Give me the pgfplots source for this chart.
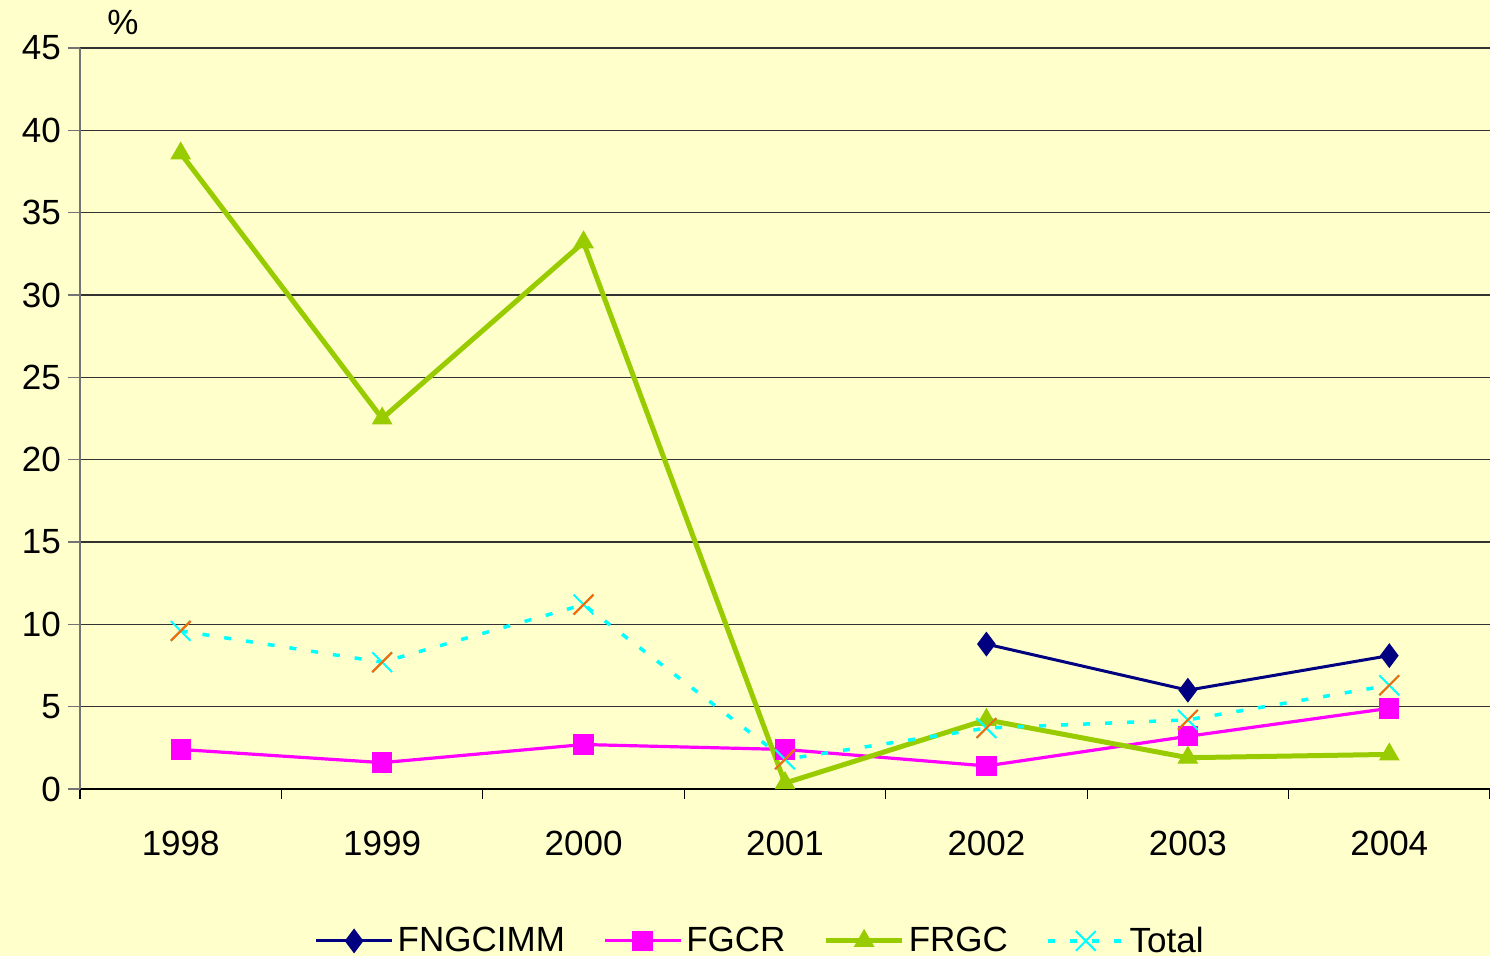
\documentclass[border=0pt]{standalone}
\usepackage{pgfplots}
\pgfplotsset{compat=1.18}
\usepackage{fontspec}
\setmainfont{Liberation Sans}
\definecolor{bg}{RGB}{255,255,204}
\definecolor{navyc}{RGB}{0,0,128}
\definecolor{magc}{RGB}{255,0,255}
\definecolor{grnc}{RGB}{153,204,0}
\definecolor{cyc}{RGB}{0,255,255}
\definecolor{orc}{RGB}{255,102,0}
\begin{document}
\begin{tikzpicture}
\fill[bg] (-40pt,-83.5pt) rectangle (705pt,394.5pt);
\path[use as bounding box] (-40pt,-83.5pt) rectangle (705pt,394.5pt);
\begin{axis}[
  at={(0,0)}, anchor=south west,
  scale only axis, width=705pt, height=370.5pt,
  xmin=-0.5, xmax=6.5, ymin=0, ymax=45,
  axis lines=left, axis line style={-, draw=black!55, line width=0.8pt},
  x axis line style={draw=black},
  xtick={0,...,6},
  xticklabels={1998,1999,2000,2001,2002,2003,2004},
  major x tick style={draw=none},
  minor xtick={-0.5,0.5,...,6.5},
  minor x tick style={draw=black, line width=0.6pt},
  minor tick length=5pt,
  ytick={0,5,...,45},
  major tick length=6pt,
  tick align=outside,
  ytick style={draw=black!55, line width=0.8pt},
  ymajorgrids, grid style={black!80, line width=0.7pt},
  tick label style={font=\fontsize{17.5}{20}\selectfont},
  /pgf/number format/assume math mode=true,
  xticklabel style={yshift=-11.5pt},
  yticklabel style={xshift=0pt},
  clip=false,
  legend columns=4,
  legend style={draw=none, fill=none, at={(0.483,-0.205)}, anchor=center,
    font=\fontsize{17.5}{20}\selectfont,
    /tikz/every even column/.append style={column sep=17pt}},
  legend image code/.code={\draw[mark repeat=2,mark phase=2] plot coordinates {(0cm,0cm) (0.67cm,0cm) (1.34cm,0cm)};},
]
\addplot[navyc, line width=1.5pt, mark=diamond*, mark size=5pt, mark options={solid}]
  coordinates {(4,8.8) (5,6.0) (6,8.1)};
\addlegendentry{FNGCIMM}
\addplot[magc, line width=1.6pt, mark=square*, mark size=4.3pt, mark options={solid}]
  coordinates {(0,2.4) (1,1.6) (2,2.7) (3,2.4) (4,1.4) (5,3.2) (6,4.9)};
\addlegendentry{FGCR}
\addplot[grnc, line width=2.5pt, mark=triangle*, mark size=5.5pt, mark options={solid, line width=0.5pt}]
  coordinates {(0,38.6) (1,22.5) (2,33.2) (3,0.36) (4,4.2) (5,1.9) (6,2.1)};
\addlegendentry{FRGC}
\addplot[cyc, line width=1.75pt, dash pattern=on 3.5pt off 7.5pt, mark=x, mark size=7pt, mark options={solid, line width=1pt}]
  coordinates {(0,9.6) (1,7.7) (2,11.2) (3,1.8) (4,3.7) (5,4.2) (6,6.3)};
\addlegendentry{Total}
\addplot[forget plot, draw=none, mark=|, mark size=7pt, mark options={orc, solid, line width=1pt, rotate=-45}]
  coordinates {(0,9.6) (1,7.7) (2,11.2) (3,1.8) (4,3.7) (5,4.2) (6,6.3)};
\node[font=\fontsize{17.5}{20}\selectfont] at (rel axis cs:0.0305,1.035) {\%};
\end{axis}
\end{tikzpicture}
\end{document}
